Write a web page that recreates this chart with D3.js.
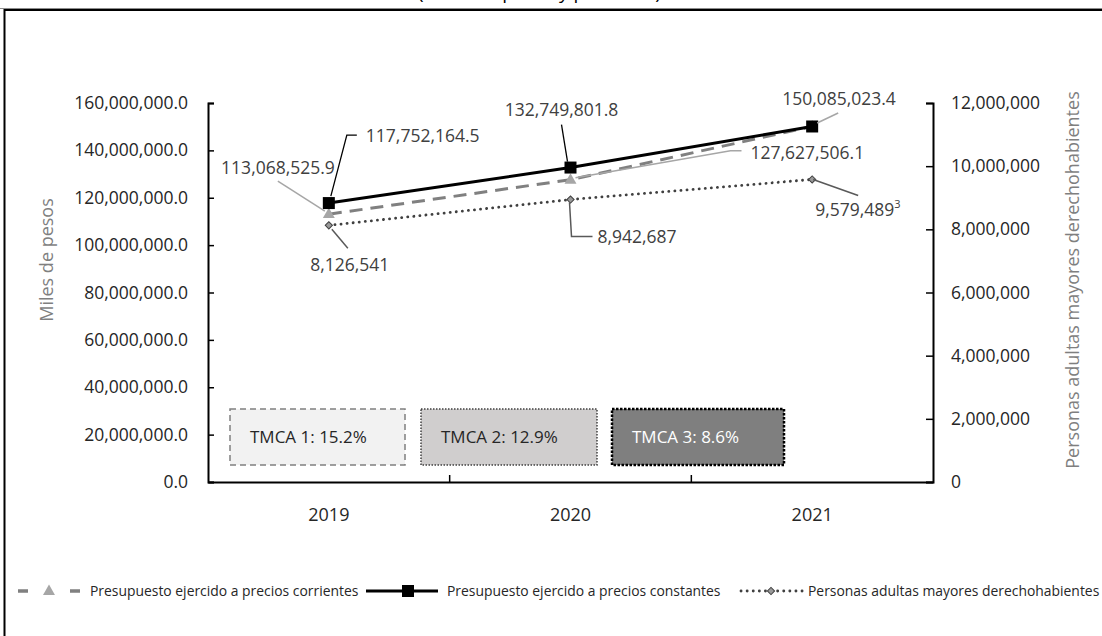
<!DOCTYPE html>
<html>
<head>
<meta charset="utf-8">
<script src="https://cdn.jsdelivr.net/npm/d3@7"></script>
<style>
  body { margin: 0; background: #fff; }
  svg { display: block; font-family: "Open Sans", sans-serif; }
</style>
</head>
<body>
<script>
// datos
var years = ["2019", "2020", "2021"];
var corrientes = [113068525.9, 127627506.1, 150085023.4];
var constantes = [117752164.5, 132749801.8, 150085023.4];
var personas = [8126541, 8942687, 9579489];
var leftTicks = [0, 20000000, 40000000, 60000000, 80000000, 100000000, 120000000, 140000000, 160000000];
var rightTicks = [0, 2000000, 4000000, 6000000, 8000000, 10000000, 12000000];
var tmcaLabels = ["TMCA 1: 15.2%", "TMCA 2: 12.9%", "TMCA 3: 8.6%"];
var legendLabels = ["Presupuesto ejercido a precios corrientes", "Presupuesto ejercido a precios constantes", "Personas adultas mayores derechohabientes"];

var W = 1102, H = 636;
var svg = d3.select("body").append("svg").attr("width", W).attr("height", H);

// marco (recortado como en la imagen)
svg.append("line").attr("x1", 0).attr("x2", W).attr("y1", 8.5).attr("y2", 8.5)
      .attr("stroke", "#8c8c8c").attr("stroke-width", 1);
svg.append("path").attr("d", "M4.5," + (H + 5) + "V10H" + (W + 5))
      .attr("fill", "none").attr("stroke", "#000").attr("stroke-width", 2);
svg.append("text").attr("x", 418).attr("y", -1.5).attr("font-size", 19).attr("fill", "#000")
      .text("(Miles de pesos y personas)");

var x = d3.scaleBand().domain(years).range([208, 933]);
var cx = function (d) { return x(d) + x.bandwidth() / 2; };
var yL = d3.scaleLinear().domain([0, 160000000]).range([482, 103]);
var yR = d3.scaleLinear().domain([0, 12000000]).range([482, 103]);

// ejes
var axL = svg.append("g").attr("transform", "translate(208,0)")
      .call(d3.axisLeft(yL).tickValues(leftTicks).tickSize(-6).tickSizeOuter(-6).tickPadding(20)
            .tickFormat(d3.format(",.1f")));
var axR = svg.append("g").attr("transform", "translate(933,0)")
      .call(d3.axisRight(yR).tickValues(rightTicks).tickSize(-7).tickSizeOuter(-7).tickPadding(18)
            .tickFormat(d3.format(",")));
var axB = svg.append("g").attr("transform", "translate(0,482)")
      .call(d3.axisBottom(x).tickSize(0).tickPadding(26));

[axL, axR, axB].forEach(function (g) {
      g.select(".domain").attr("stroke", "#000").attr("stroke-width", 2);
      g.selectAll(".tick line").attr("stroke", "#000").attr("stroke-width", 1.5);
      g.selectAll(".tick text").attr("font-size", 17.5).attr("fill", "#262626")
            .attr("font-family", "'Open Sans', sans-serif");
});
axB.selectAll(".tick text").attr("font-size", 18);

// marcas entre categorias
svg.append("g").selectAll("line.xt")
      .data(years.slice(1))
      .enter().append("line")
      .attr("x1", function (d) { return x(d); }).attr("x2", function (d) { return x(d); })
      .attr("y1", 482).attr("y2", 475)
      .attr("stroke", "#000").attr("stroke-width", 1.5);

// titulos de ejes
svg.append("text").attr("transform", "translate(53,260) rotate(-90)")
      .attr("text-anchor", "middle").attr("font-size", 18).attr("fill", "#7f7f7f")
      .text("Miles de pesos");
svg.append("text").attr("transform", "translate(1079,280) rotate(-90)")
      .attr("text-anchor", "middle").attr("font-size", 18).attr("fill", "#7f7f7f")
      .text("Personas adultas mayores derechohabientes");

// recuadros TMCA
var boxStyle = [
      { x: 230, w: 175, fill: "#f2f2f2", stroke: "#808080", dash: "6,4", sw: 1.5, color: "#262626" },
      { x: 421, w: 176, fill: "#d0cece", stroke: "#404040", dash: "1.5,1.5", sw: 1.5, color: "#262626" },
      { x: 612, w: 172, fill: "#7f7f7f", stroke: "#000", dash: "2.5,1.5", sw: 2.5, color: "#fff" }
];
var boxes = svg.append("g").selectAll("g.box")
      .data(tmcaLabels)
      .enter().append("g");
boxes.append("rect")
      .attr("x", function (d, i) { return boxStyle[i].x; }).attr("y", 409)
      .attr("width", function (d, i) { return boxStyle[i].w; }).attr("height", 56)
      .attr("fill", function (d, i) { return boxStyle[i].fill; })
      .attr("stroke", function (d, i) { return boxStyle[i].stroke; })
      .attr("stroke-dasharray", function (d, i) { return boxStyle[i].dash; })
      .attr("stroke-width", function (d, i) { return boxStyle[i].sw; });
boxes.append("text")
      .attr("x", function (d, i) { return boxStyle[i].x + 20; }).attr("y", 437).attr("dy", "0.35em")
      .attr("font-size", 17).attr("fill", function (d, i) { return boxStyle[i].color; })
      .text(function (d) { return d; });

// lineas
var series = [
      { key: "per", values: personas, y: yR, stroke: "#404040", width: 2.8, dash: "0.1,6", cap: "round" },
      { key: "cor", values: corrientes, y: yL, stroke: "#808080", width: 3, dash: "13,8", cap: "butt" },
      { key: "con", values: constantes, y: yL, stroke: "#000", width: 3, dash: null, cap: "butt" }
];
series.forEach(function (s) {
      var line = d3.line()
            .x(function (d, i) { return cx(years[i]); })
            .y(function (d) { return s.y(d); });
      svg.append("path")
            .attr("fill", "none")
            .attr("stroke", s.stroke)
            .attr("stroke-width", s.width)
            .attr("stroke-dasharray", s.dash)
            .attr("stroke-linecap", s.cap)
            .attr("d", line(s.values));
});

// marcadores
var tri = d3.symbol().type(d3.symbolTriangle).size(62);
var dia = d3.symbol().type(d3.symbolSquare).size(26);
svg.append("g").selectAll("path.tri").data(corrientes).enter().append("path")
      .attr("d", tri)
      .attr("transform", function (d, i) { return "translate(" + cx(years[i]) + "," + (yL(d) + 0.5) + ")"; })
      .attr("fill", "#a6a6a6");
svg.append("g").selectAll("path.dia").data(personas).enter().append("path")
      .attr("d", dia)
      .attr("transform", function (d, i) { return "translate(" + cx(years[i]) + "," + yR(d) + ") rotate(45)"; })
      .attr("fill", "#9a9a9a").attr("stroke", "#404040").attr("stroke-width", 1);
svg.append("g").selectAll("rect.sq").data(constantes).enter().append("rect")
      .attr("x", function (d, i) { return cx(years[i]) - 6; })
      .attr("y", function (d) { return yL(d) - 6; })
      .attr("width", 12).attr("height", 12)
      .attr("fill", "#000");

// etiquetas de datos con lineas guia (desplazamientos respecto al punto)
var fmtM = d3.format(",.1f"), fmtP = d3.format(",");
var labelSpecs = [
      { s: "con", i: 0, dx: 37, dy: -67, anchor: "start", lead: [[2, -7], [18, -68], [28, -68]], c: "#000" },
      { s: "cor", i: 0, dx: 6, dy: -46, anchor: "end", lead: [[-4, -3], [-51, -33]], c: "#a6a6a6" },
      { s: "per", i: 0, dx: 21, dy: 40, anchor: "middle", lead: [[3, 4], [19, 23]], c: "#595959" },
      { s: "con", i: 1, dx: -9, dy: -58, anchor: "middle", lead: [[-3, -6], [-9, -43]], c: "#000" },
      { s: "per", i: 1, dx: 27, dy: 37, anchor: "start", lead: [[-1, 3], [1, 37], [22, 37]], c: "#595959" },
      { s: "cor", i: 1, dx: 180, dy: -27, anchor: "start", lead: [[5, -2], [160, -29], [171, -29]], c: "#a6a6a6" },
      { s: "cor", i: 2, dx: -30, dy: -28, anchor: "start", lead: [[5, -3.5], [26, -13.5]], c: "#a6a6a6" },
      { s: "per", i: 2, dx: 3, dy: 30, anchor: "start", lead: [[1, 0], [46, 16]], c: "#595959", sup: "3" }
];
var valuesBy = { con: constantes, cor: corrientes, per: personas };
var labels = svg.append("g");
labelSpecs.forEach(function (l) {
      var v = valuesBy[l.s][l.i];
      var px = cx(years[l.i]);
      var py = l.s === "per" ? yR(v) : yL(v);
      labels.append("path")
            .attr("d", d3.line()(l.lead.map(function (p) { return [px + p[0], py + p[1]]; })))
            .attr("fill", "none").attr("stroke", l.c).attr("stroke-width", l.c === "#000" ? 1.3 : 1.5);
      var t = labels.append("text")
            .attr("x", px + l.dx).attr("y", py + l.dy).attr("dy", "0.35em")
            .attr("text-anchor", l.anchor)
            .attr("font-size", 17.5).attr("fill", "#404040")
            .text(l.s === "per" ? fmtP(v) : fmtM(v));
      if (l.sup) {
            t.append("tspan").attr("font-size", 11).attr("dy", "-0.7em").text(l.sup);
      }
});

// leyenda
var lg = svg.append("g").attr("transform", "translate(0,591)");
lg.append("line").attr("x1", 18).attr("x2", 80).attr("stroke", "#808080").attr("stroke-width", 3.5)
      .attr("stroke-dasharray", "10,42");
lg.append("path").attr("d", tri).attr("transform", "translate(49,0.5)").attr("fill", "#a6a6a6");
lg.append("line").attr("x1", 366).attr("x2", 438).attr("stroke", "#000").attr("stroke-width", 3);
lg.append("rect").attr("x", 402).attr("y", -6).attr("width", 12).attr("height", 12).attr("fill", "#000");
lg.append("line").attr("x1", 741).attr("x2", 805).attr("stroke", "#404040").attr("stroke-width", 2.8)
      .attr("stroke-dasharray", "0.1,6").attr("stroke-linecap", "round");
lg.append("path").attr("d", dia).attr("transform", "translate(771,0) rotate(45)")
      .attr("fill", "#9a9a9a").attr("stroke", "#404040");
var legendX = [90, 447, 808];
lg.selectAll("text").data(legendLabels).enter().append("text")
      .attr("x", function (d, i) { return legendX[i]; }).attr("dy", "0.35em")
      .attr("font-size", 13.9).attr("fill", "#262626")
      .text(function (d) { return d; });
</script>
</body>
</html>
